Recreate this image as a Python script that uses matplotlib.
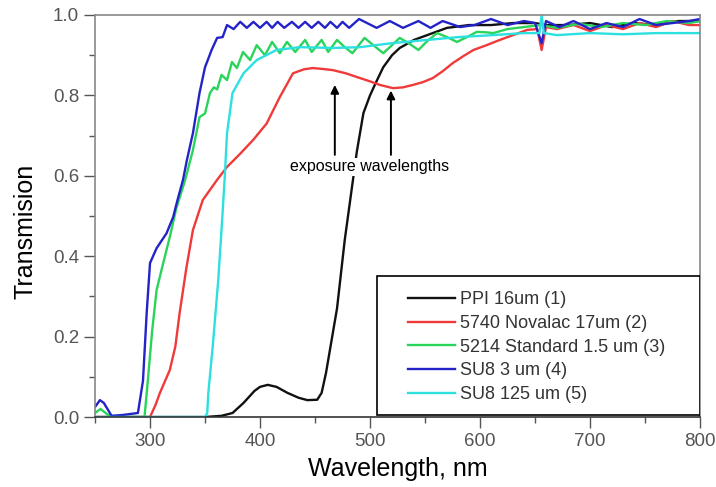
import matplotlib
matplotlib.use("Agg")
from matplotlib import pyplot as plt
from matplotlib.patches import Rectangle
from matplotlib.ticker import MultipleLocator

plt.rcParams["font.family"] = ["Liberation Sans", "DejaVu Sans"]

# transmission spectra
wl_ppi = [250, 300, 350, 365, 375, 385, 395, 400, 407, 415, 425, 435, 443, 452, 456, 460,
          465, 470, 477, 484, 488, 494, 500, 505, 512, 520, 527, 540, 552, 570, 590, 610,
          630, 650, 660, 680, 700, 720, 740, 760, 780, 800]
t_ppi = [0, 0, 0, 0.003, 0.01, 0.035, 0.065, 0.075, 0.08, 0.075, 0.06, 0.048, 0.042, 0.043,
         0.06, 0.11, 0.19, 0.27, 0.44, 0.58, 0.66, 0.756, 0.8, 0.83, 0.87, 0.9, 0.918, 0.938,
         0.95, 0.968, 0.975, 0.975, 0.98, 0.98, 0.975, 0.975, 0.98, 0.97, 0.98, 0.975, 0.985,
         0.985]

wl_novalac = [250, 300, 305, 309, 318, 323, 327, 333, 339, 348, 361, 370, 382, 394, 406, 418,
              430, 440, 448, 456, 466, 478, 491, 500, 509, 521, 530, 539, 548, 557, 566, 575,
              585, 594, 606, 618, 630, 643, 652, 656, 660, 670, 685, 700, 715, 730, 745, 760,
              775, 790, 800]
t_novalac = [0, 0, 0.03, 0.06, 0.117, 0.175, 0.26, 0.37, 0.465, 0.54, 0.59, 0.622, 0.655,
             0.69, 0.73, 0.796, 0.855, 0.865, 0.868, 0.866, 0.863, 0.855, 0.843, 0.835, 0.826,
             0.818, 0.82, 0.826, 0.833, 0.843, 0.86, 0.88, 0.898, 0.913, 0.925, 0.938, 0.95,
             0.963, 0.965, 0.913, 0.97, 0.965, 0.975, 0.96, 0.975, 0.965, 0.98, 0.97, 0.985,
             0.975, 0.975]

wl_standard = [250, 255, 262, 270, 290, 295, 298, 302, 306, 312, 318, 324, 332, 339, 345, 350,
               354.5, 358, 361, 365, 370, 374.5, 379, 384.5, 391, 397, 404.5, 411, 418, 424.5,
               432, 441, 447, 456, 462, 470, 477, 484, 495, 503, 512, 520, 527, 535, 544, 552,
               561, 570, 579, 588, 597, 605, 612, 625, 640, 655, 670, 690, 710, 730, 750, 770,
               790, 800]
t_standard = [0.01, 0.02, 0.005, 0, 0, 0, 0.09, 0.216, 0.316, 0.383, 0.448, 0.52, 0.59, 0.664,
              0.746, 0.755, 0.806, 0.82, 0.815, 0.851, 0.838, 0.883, 0.868, 0.908, 0.888,
              0.925, 0.90, 0.933, 0.905, 0.933, 0.908, 0.938, 0.908, 0.938, 0.908, 0.938,
              0.92, 0.905, 0.943, 0.925, 0.905, 0.925, 0.943, 0.93, 0.913, 0.935, 0.955,
              0.945, 0.933, 0.945, 0.958, 0.957, 0.955, 0.965, 0.97, 0.975, 0.968, 0.978,
              0.97, 0.98, 0.975, 0.985, 0.98, 0.985]

wl_su8_3 = [250, 254.5, 258, 262, 265, 275, 289, 293.6, 297, 300, 306, 315, 321, 325, 330,
            333.6, 339, 345, 350, 356, 361, 366, 370, 376, 382, 388, 394, 400, 406, 411, 416,
            422, 429, 435, 441, 447, 453, 459, 464, 470, 475, 481, 490, 506, 518, 530, 544,
            555, 566, 582, 595, 610, 625, 640, 650, 656, 660, 672, 685, 700, 715, 730, 745,
            760, 775, 790, 800]
t_su8_3 = [0.025, 0.042, 0.035, 0.017, 0.003, 0.005, 0.01, 0.09, 0.26, 0.383, 0.42, 0.457,
           0.497, 0.54, 0.59, 0.64, 0.706, 0.806, 0.87, 0.913, 0.943, 0.945, 0.975, 0.965,
           0.983, 0.968, 0.983, 0.968, 0.983, 0.968, 0.983, 0.968, 0.983, 0.968, 0.983, 0.968,
           0.983, 0.968, 0.983, 0.968, 0.983, 0.968, 0.99, 0.968, 0.985, 0.968, 0.985, 0.968,
           0.985, 0.97, 0.975, 0.99, 0.975, 0.985, 0.98, 0.93, 0.985, 0.97, 0.985, 0.965,
           0.98, 0.97, 0.99, 0.975, 0.98, 0.985, 0.99]

wl_su8_125 = [250, 300, 350, 352, 353, 357, 362, 365, 368, 370, 375, 385, 397, 415, 436, 466,
              491, 520, 552, 580, 612, 640, 654, 656, 658, 670, 700, 730, 760, 800]
t_su8_125 = [0, 0, 0, 0.01, 0.06, 0.175, 0.34, 0.465, 0.6, 0.706, 0.806, 0.855, 0.888, 0.913,
             0.92, 0.918, 0.92, 0.93, 0.938, 0.945, 0.95, 0.955, 0.955, 1.0, 0.955, 0.95,
             0.955, 0.952, 0.955, 0.955]

labels = ["PPI 16um (1)", "5740 Novalac 17um (2)", "5214 Standard 1.5 um (3)",
          "SU8 3 um (4)", "SU8 125 um (5)"]
colors = ["#111111", "#f03a3a", "#2ad45a", "#2323c8", "#2de0e0"]

fig = plt.figure(figsize=(7.16, 4.87), dpi=100)
ax = fig.add_axes([0.1327, 0.1437, 0.845, 0.8255])

series = [(wl_ppi, t_ppi), (wl_novalac, t_novalac), (wl_standard, t_standard),
          (wl_su8_3, t_su8_3), (wl_su8_125, t_su8_125)]
for (x, y), lab, c in zip(series, labels, colors):
    ax.plot(x, y, color=c, lw=1.7, label=lab, solid_joinstyle="round")

ax.set_xlim(250, 800)
ax.set_ylim(0, 1.0)
ax.xaxis.set_major_locator(MultipleLocator(100))
ax.xaxis.set_minor_locator(MultipleLocator(50))
ax.yaxis.set_major_locator(MultipleLocator(0.2))
ax.yaxis.set_minor_locator(MultipleLocator(0.1))
ax.yaxis.set_major_formatter(lambda v, p: f"{v:.1f}")
ax.tick_params(which="both", direction="out", labelsize=13.5, labelcolor="#555555",
               color="#555555", width=1)
ax.tick_params(which="major", length=8)
ax.tick_params(which="minor", length=4.5)
for s in ["top", "right", "left"]:
    ax.spines[s].set_color("#888888")
ax.spines["bottom"].set_color("#333333")
for s in ax.spines.values():
    s.set_linewidth(1.2)

ax.set_xlabel("Wavelength, nm", fontsize=18)
ax.set_ylabel("Transmision", fontsize=18)
ax.xaxis.set_label_coords(0.5, -0.1)
ax.yaxis.set_label_coords(-0.095, 0.463)

# annotation with arrows
ax.text(500, 0.622, "exposure wavelengths", fontsize=11.5, ha="center", va="center",
        bbox=dict(facecolor="white", edgecolor="none", pad=1), zorder=5)
for xa, ytop in [(468, 0.826), (519, 0.812)]:
    ax.annotate("", xy=(xa, ytop), xytext=(xa, 0.652),
                arrowprops=dict(arrowstyle="-|>", color="black", lw=1.4,
                                mutation_scale=12, shrinkA=0, shrinkB=0), zorder=6)

# legend frame drawn separately for exact placement
ax.add_patch(Rectangle((0.466, 0.005), 0.534, 0.346, transform=ax.transAxes,
                       facecolor="white", edgecolor="black", lw=1.2, zorder=7))
leg = ax.legend(loc="upper left", bbox_to_anchor=(0.517, 0.313), frameon=False,
                fontsize=13, handlelength=2.6, handletextpad=0.28, labelspacing=0.37,
                borderpad=0, borderaxespad=0)
leg.set_zorder(8)
for t in leg.get_texts():
    t.set_color("#333333")

fig.savefig("out.png", dpi=100)
